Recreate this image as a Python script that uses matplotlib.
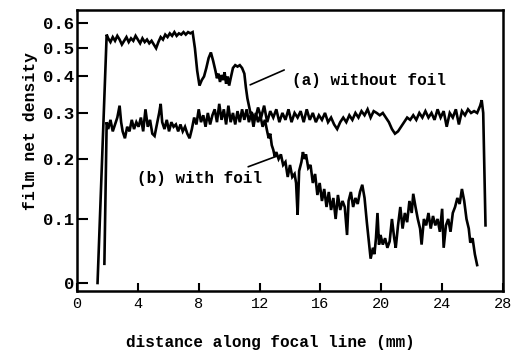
import numpy as np
import matplotlib
matplotlib.use("Agg")
import matplotlib.pyplot as plt

plt.rcParams['font.family'] = ['Liberation Mono', 'DejaVu Sans Mono']

# curve (a): without foil
xa = [1.35, 1.95, 2.05, 2.2, 2.35, 2.5, 2.65, 2.8, 2.95, 3.1, 3.25, 3.4, 3.55, 3.7, 3.85,
      4.0, 4.15, 4.3, 4.45, 4.6, 4.75, 4.9, 5.05, 5.2, 5.35, 5.5, 5.65, 5.8, 5.95, 6.1,
      6.25, 6.4, 6.55, 6.7, 6.85, 7.0, 7.15, 7.3, 7.45, 7.6, 7.75, 7.9, 8.05, 8.2, 8.35,
      8.5, 8.65, 8.8, 8.95, 9.1, 9.2, 9.3, 9.4, 9.5, 9.6, 9.7, 9.8, 9.9, 10.0, 10.1,
      10.25, 10.4, 10.55, 10.7, 10.85, 11.0, 11.1, 11.2, 11.3, 11.4,
      11.5, 11.7, 11.9, 12.1, 12.3, 12.5, 12.7, 12.9, 13.1, 13.3, 13.5, 13.7, 13.9,
      14.1, 14.3, 14.5, 14.7, 14.9, 15.1, 15.3, 15.5, 15.7, 15.9, 16.1, 16.3, 16.5,
      16.7, 16.9, 17.1, 17.3, 17.5, 17.7, 17.9, 18.1, 18.3, 18.5, 18.7, 18.9, 19.1,
      19.3, 19.5, 19.7, 19.9, 20.1, 20.3, 20.5, 20.7, 20.9, 21.1, 21.3, 21.5, 21.7,
      21.9, 22.1, 22.3, 22.5, 22.7, 22.9, 23.1, 23.3, 23.5, 23.7, 23.9, 24.1, 24.3,
      24.5, 24.7, 24.9, 25.1, 25.3, 25.5, 25.7, 25.9, 26.1, 26.3, 26.5, 26.6, 26.7,
      26.8, 26.85]
ya = [0.0, 0.555, 0.54, 0.525, 0.545, 0.53, 0.55, 0.535, 0.515, 0.53, 0.545, 0.525, 0.54,
      0.53, 0.55, 0.535, 0.52, 0.54, 0.525, 0.535, 0.52, 0.53, 0.515, 0.5, 0.525, 0.545,
      0.535, 0.555, 0.545, 0.56, 0.55, 0.565, 0.55, 0.56, 0.555, 0.565, 0.555, 0.565,
      0.56, 0.565, 0.5, 0.42, 0.375, 0.39, 0.4, 0.43, 0.465, 0.485, 0.455, 0.42, 0.395,
      0.41, 0.385, 0.405, 0.39, 0.415, 0.38, 0.4, 0.375, 0.395, 0.43, 0.44, 0.435, 0.44,
      0.43, 0.41, 0.37, 0.34, 0.32, 0.3,
      0.3, 0.285, 0.315, 0.29, 0.32, 0.28, 0.305, 0.29, 0.31, 0.28, 0.3, 0.285, 0.31,
      0.28, 0.3, 0.29, 0.305, 0.28, 0.31, 0.285, 0.3, 0.28, 0.295, 0.285, 0.3, 0.28,
      0.29, 0.275, 0.265, 0.28, 0.29, 0.28, 0.295, 0.285, 0.3, 0.29, 0.305, 0.295, 0.31,
      0.29, 0.305, 0.3, 0.295, 0.3, 0.29, 0.28, 0.265, 0.255, 0.26, 0.27, 0.28, 0.29,
      0.285, 0.295, 0.285, 0.3, 0.29, 0.305, 0.29, 0.3, 0.285, 0.31, 0.29, 0.305, 0.27,
      0.3, 0.29, 0.31, 0.275, 0.305, 0.295, 0.31, 0.3, 0.305, 0.3, 0.32, 0.335, 0.3,
      0.15, 0.09]

# curve (b): with foil
xb = [1.8, 1.95, 2.05, 2.2, 2.35, 2.5, 2.65, 2.8, 2.9, 3.0, 3.15, 3.3, 3.45, 3.6, 3.75,
      3.9, 4.05, 4.2, 4.35, 4.5, 4.65, 4.8, 4.95, 5.1, 5.25, 5.4, 5.5, 5.6, 5.75, 5.9,
      6.05, 6.2, 6.35, 6.5, 6.65, 6.8, 6.95, 7.1, 7.25, 7.4, 7.55, 7.7, 7.85, 8.0, 8.15,
      8.3, 8.45, 8.6, 8.75, 8.9, 9.05, 9.2, 9.35, 9.5, 9.65, 9.8, 9.95, 10.1, 10.25,
      10.4, 10.55, 10.7, 10.85, 11.0, 11.15, 11.3, 11.45, 11.6, 11.75, 11.9, 12.05,
      12.2, 12.35, 12.5, 12.6, 12.7, 12.8, 12.9, 13.0, 13.1, 13.25, 13.4, 13.55, 13.7,
      13.85, 14.0, 14.15, 14.3, 14.4, 14.5, 14.6, 14.75, 14.85, 14.95, 15.05, 15.2,
      15.35, 15.5, 15.65, 15.8, 15.95, 16.1, 16.25, 16.4, 16.55, 16.7, 16.85, 17.0,
      17.15, 17.3, 17.45, 17.6, 17.75, 17.85, 18.0, 18.15, 18.3, 18.45, 18.6, 18.75,
      18.9, 19.05, 19.2, 19.3, 19.45, 19.55, 19.65, 19.75, 19.85, 19.95, 20.1, 20.25,
      20.4, 20.55, 20.7, 20.85, 20.95, 21.1, 21.25, 21.4, 21.55, 21.7, 21.85, 22.0,
      22.1, 22.25, 22.4, 22.55, 22.65, 22.8, 22.95, 23.1, 23.25, 23.4, 23.55, 23.7,
      23.85, 24.0, 24.1, 24.25, 24.4, 24.55, 24.7, 24.85, 25.0, 25.15, 25.3, 25.45,
      25.6, 25.75, 25.85, 26.0, 26.15, 26.3]
yb = [0.03, 0.28, 0.265, 0.285, 0.26, 0.275, 0.29, 0.32, 0.28, 0.26, 0.245, 0.27, 0.26,
      0.285, 0.265, 0.28, 0.27, 0.29, 0.26, 0.31, 0.27, 0.285, 0.255, 0.25, 0.275, 0.3,
      0.325, 0.28, 0.265, 0.285, 0.26, 0.28, 0.27, 0.275, 0.26, 0.275, 0.26, 0.27, 0.255,
      0.245, 0.265, 0.29, 0.275, 0.31, 0.28, 0.295, 0.27, 0.3, 0.275, 0.295, 0.31, 0.28,
      0.325, 0.285, 0.31, 0.275, 0.32, 0.28, 0.3, 0.275, 0.305, 0.28, 0.31, 0.285, 0.31,
      0.28, 0.3, 0.27, 0.3, 0.28, 0.295, 0.27, 0.285, 0.26, 0.245, 0.255, 0.23, 0.22,
      0.205, 0.215, 0.2, 0.21, 0.19, 0.195, 0.17, 0.19, 0.17, 0.175, 0.16, 0.107, 0.18,
      0.195, 0.215, 0.2, 0.21, 0.185, 0.19, 0.16, 0.175, 0.14, 0.16, 0.13, 0.15, 0.12,
      0.145, 0.115, 0.135, 0.1, 0.14, 0.115, 0.13, 0.12, 0.075, 0.13, 0.145, 0.12, 0.135,
      0.125, 0.145, 0.157, 0.135, 0.095, 0.06, 0.038, 0.055, 0.045, 0.07, 0.11, 0.06,
      0.075, 0.06, 0.07, 0.055, 0.065, 0.1, 0.07, 0.055, 0.09, 0.12, 0.085, 0.11, 0.095,
      0.13, 0.11, 0.142, 0.12, 0.1, 0.085, 0.06, 0.1, 0.09, 0.11, 0.085, 0.105, 0.09,
      0.1, 0.08, 0.117, 0.055, 0.09, 0.1, 0.08, 0.11, 0.12, 0.135, 0.125, 0.15, 0.13,
      0.1, 0.085, 0.063, 0.07, 0.045, 0.028]

xticks = [0, 4, 8, 12, 16, 20, 24, 28]
yticks = [0, 0.1, 0.2, 0.3, 0.4, 0.5, 0.6]
ytick_labels = ["0", "0.1", "0.2", "0.3", "0.4", "0.5", "0.6"]

# the density axis of the original is hand drawn, not linear: calibration from the tick marks
dens_ref = [-0.1, 0.0, 0.1, 0.2, 0.3, 0.4, 0.5, 0.6, 0.7, 0.8]
scale_ref = [-64, 0, 64, 124, 170, 206.5, 234.7, 259.5, 283.5, 307.5]


def fwd(d):
    return np.interp(d, dens_ref, scale_ref)


def inv(h):
    return np.interp(h, scale_ref, dens_ref)


fig = plt.figure(figsize=(5.11, 3.51), dpi=100)
ax = fig.add_axes([77 / 511, 1 - 291 / 351, 426 / 511, 281 / 351])

ax.set_yscale('function', functions=(fwd, inv))
ax.plot(xa, ya, color='black', lw=1.9, solid_joinstyle='miter')
ax.plot(xb, yb, color='black', lw=1.9, solid_joinstyle='miter')

ax.set_xlim(0, 28)
ax.set_ylim(-0.0125, 0.656)

ax.set_xticks(xticks)
ax.set_xticklabels([str(t) for t in xticks], fontsize=11)
ax.set_yticks(yticks)
ax.set_yticklabels(ytick_labels, fontsize=12.5, fontweight='bold')
ax.minorticks_off()
ax.tick_params(axis='x', direction='in', length=6, width=1.5, pad=4)
ax.tick_params(axis='y', direction='in', length=8, width=1.5, pad=2)
for s in ax.spines.values():
    s.set_linewidth(1.8)

ax.set_xlabel("distance along focal line (mm)", fontsize=11.5, fontweight='bold')
ax.xaxis.set_label_coords(0.453, -0.155)
ax.set_ylabel("film net density", fontsize=11.8, fontweight='bold')
ax.yaxis.set_label_coords(-0.092, 0.569)

ax.text(14.14, 0.388, "(a) without foil", fontsize=11.5, fontweight='bold', va='center')
ax.text(3.95, 0.168, "(b) with foil", fontsize=11.5, fontweight='bold', va='center')
ax.annotate("", xy=(11.38, 0.377), xytext=(13.62, 0.423),
            arrowprops=dict(arrowstyle='-', color='black', lw=1.2, shrinkA=0, shrinkB=0))
ax.annotate("", xy=(13.16, 0.2065), xytext=(11.25, 0.187),
            arrowprops=dict(arrowstyle='-', color='black', lw=1.2, shrinkA=0, shrinkB=0))

fig.savefig("out.png", dpi=100)
